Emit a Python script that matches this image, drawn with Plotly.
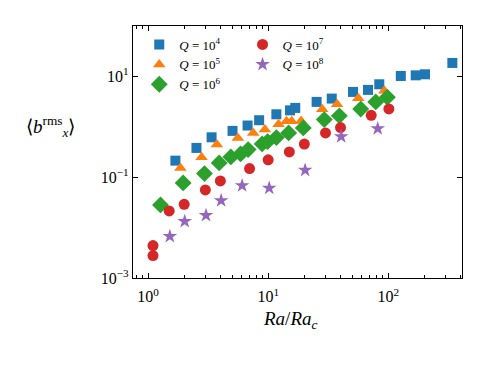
import plotly.graph_objects as go

# Ra/Ra_c and <b_x^rms> for each Q
ra_q4 = [1.69, 2.53, 3.38, 5.05, 6.74, 8.41, 11.7, 15.2, 16.8, 25.3, 33.8, 50.8, 67.7, 84.1, 127, 169, 202, 341]
b_q4 = [0.213, 0.381, 0.619, 0.83, 1.06, 1.35, 1.77, 2.12, 2.37, 3.12, 3.63, 4.92, 5.40, 6.97, 10.2, 10.5, 11.0, 18.5]

ra_q5 = [1.86, 2.79, 3.74, 5.59, 7.50, 9.39, 12.2, 14.2, 15.7, 18.8, 28.2, 37.4, 56.2, 92.6]
b_q5 = [0.153, 0.248, 0.443, 0.602, 0.757, 0.88, 1.12, 1.29, 1.29, 1.31, 2.22, 2.79, 3.67, 5.22]

ra_q6 = [1.27, 1.96, 2.95, 3.91, 4.89, 5.89, 6.81, 8.91, 9.89, 11.7, 14.8, 19.6, 29.3, 39.1, 58.9, 78.5, 98.1]
b_q6 = [0.0282, 0.077, 0.118, 0.192, 0.253, 0.29, 0.353, 0.458, 0.508, 0.61, 0.757, 0.95, 1.39, 1.65, 2.26, 3.12, 3.85]

ra_q7 = [1.1, 1.1, 1.5, 2.0, 3.0, 4.0, 7.0, 10.0, 15.0, 20.0, 30.0, 40.0, 72.0, 101]
b_q7 = [0.0044, 0.00278, 0.0214, 0.029, 0.056, 0.0845, 0.148, 0.221, 0.318, 0.454, 0.757, 0.964, 1.69, 2.26]

ra_q8 = [1.52, 2.02, 3.04, 4.06, 6.07, 10.2, 20.3, 40.5, 81.6]
b_q8 = [0.0067, 0.0133, 0.0175, 0.0344, 0.068, 0.0608, 0.138, 0.64, 0.92]

x_ticks = [1, 10, 100]
x_ticktext = ["10<sup>0</sup>", "10<sup>1</sup>", "10<sup>2</sup>"]
y_ticks = [1e-3, 1e-1, 1e1]
y_ticktext = ["10<sup>\u22123</sup>", "10<sup>\u22121</sup>", "10<sup>1</sup>"]

FONT = "Liberation Serif"

series = [
    (ra_q4, b_q4, "<i>Q</i> = 10<sup>4</sup>", "#1f77b4", "square", 10, "legend"),
    (ra_q5, b_q5, "<i>Q</i> = 10<sup>5</sup>", "#ff7f0e", "triangle-up", 11, "legend"),
    (ra_q6, b_q6, "<i>Q</i> = 10<sup>6</sup>", "#2ca02c", "diamond", 13, "legend"),
    (ra_q7, b_q7, "<i>Q</i> = 10<sup>7</sup>", "#d62728", "circle", 11, "legend2"),
    (ra_q8, b_q8, "<i>Q</i> = 10<sup>8</sup>", "#9467bd", "star", 11, "legend2"),
]

fig = go.Figure()
for xs, ys, name, col, sym, sz, leg in series:
    fig.add_trace(go.Scatter(
        x=xs, y=ys, mode="markers", name=name, legend=leg,
        marker=dict(symbol=sym, size=sz, color=col, line=dict(width=0)),
    ))

minor_x = [m * 10 ** e for e in range(-1, 3) for m in range(2, 10)]

# page body adds an 8px offset, so the figure is a bit smaller than the window
fig.update_layout(
    width=480, height=358,
    margin=dict(l=125, r=26, t=18, b=88),
    paper_bgcolor="white", plot_bgcolor="white",
    font=dict(family=FONT, size=16, color="black"),
    showlegend=True,
    legend=dict(x=0.019, y=0.986, xanchor="left", yanchor="top",
                bgcolor="rgba(0,0,0,0)", font=dict(size=13),
                tracegroupgap=0),
    legend2=dict(x=0.333, y=0.986, xanchor="left", yanchor="top",
                 bgcolor="rgba(0,0,0,0)", font=dict(size=13),
                 tracegroupgap=0),
    xaxis=dict(
        type="log", range=[-0.125, 2.613],
        tickvals=x_ticks, ticktext=x_ticktext,
        ticks="inside", ticklen=5, tickcolor="black", tickwidth=1,
        showline=True, linecolor="black", linewidth=1.2, mirror="allticks",
        showgrid=False, zeroline=False,
        tickfont=dict(size=16), ticklabelstandoff=4,
        minor=dict(tickvals=minor_x, ticks="inside", ticklen=2.5,
                   tickcolor="black", showgrid=False),
    ),
    yaxis=dict(
        type="log", range=[-3, 2],
        tickvals=y_ticks, ticktext=y_ticktext,
        ticks="inside", ticklen=5, tickcolor="black", tickwidth=1,
        showline=True, linecolor="black", linewidth=1.2, mirror="allticks",
        showgrid=False, zeroline=False,
        tickfont=dict(size=16),
    ),
    annotations=[
        dict(text="<i>Ra</i>/<i>Ra</i><sub><i>c</i></sub>", xref="paper", yref="paper",
             x=0.48, y=-0.165, xanchor="center", yanchor="middle",
             showarrow=False, font=dict(size=19)),
        dict(text="\u27e8<i>b</i><sup>rms</sup><sub><i>x</i></sub>\u27e9", xref="paper", yref="paper",
             x=-0.25, y=0.60, xanchor="center", yanchor="middle",
             showarrow=False, font=dict(size=19)),
    ],
)

fig.write_html("out.html")
